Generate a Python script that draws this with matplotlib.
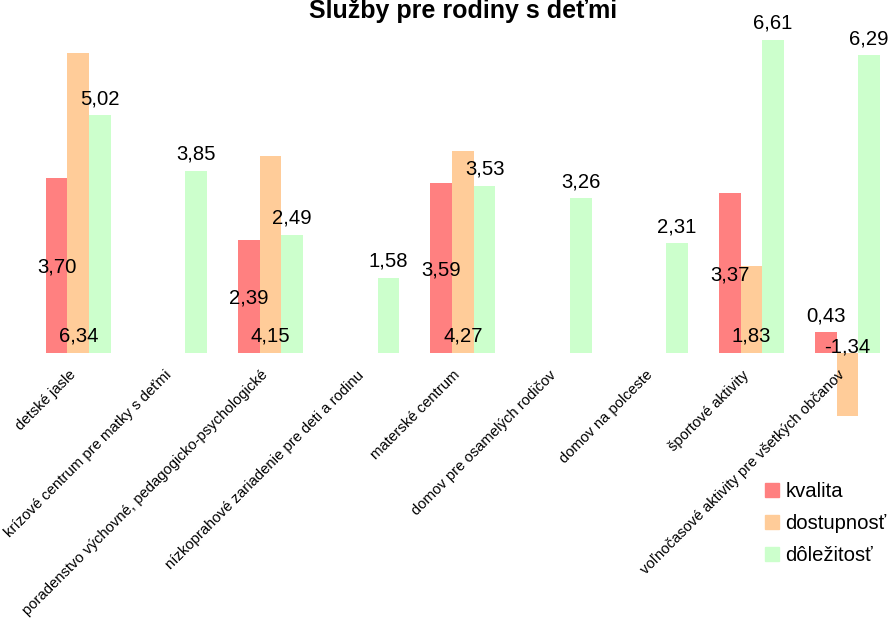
import numpy as np
import matplotlib
matplotlib.use('Agg')
from matplotlib import pyplot as plt
from matplotlib.patches import Patch

# data
categories = ['detské jasle', 'krízové centrum pre matky s deťmi',
              'poradenstvo výchovné, pedagogicko-psychologické',
              'nízkoprahové zariadenie pre deti a rodinu', 'materské centrum',
              'domov pre osamelých rodičov', 'domov na polceste',
              'športové aktivity', 'voľnočasové aktivity pre všetkých občanov']
kvalita = [3.70, np.nan, 2.39, np.nan, 3.59, np.nan, np.nan, 3.37, 0.43]
dostupnost = [6.34, np.nan, 4.15, np.nan, 4.27, np.nan, np.nan, 1.83, -1.34]
dolezitost = [5.02, 3.85, 2.49, 1.58, 3.53, 3.26, 2.31, 6.61, 6.29]
series_names = ['kvalita', 'dostupnosť', 'dôležitosť']

col_k = '#FF8080'
col_d = '#FFCC99'
col_z = '#CCFFCC'

plt.rcParams['font.family'] = ['Liberation Sans', 'DejaVu Sans']

f = plt.figure(figsize=(8.91, 6.22), dpi=100)
ax = f.add_axes([0.0339, 0.2809, 0.9713, 0.6844])

x = np.arange(len(categories))
width = 0.2256

ax.bar(x - width, kvalita, width, color=col_k)
ax.bar(x, dostupnost, width, color=col_d)
ax.bar(x + width, dolezitost, width, color=col_z)

ax.set_xlim(-0.5, len(categories) - 0.5)
ax.set_ylim(-2, 7)


def fmt(v):
    return f'{v:.2f}'.replace('.', ',')


lab_fs = 14.6
# kvalita: centred in the bar, above the bar when it is too short
for xi, v in zip(x - width, kvalita):
    if np.isnan(v):
        continue
    if v >= 1:
        ax.text(xi, v / 2, fmt(v), ha='center', va='center_baseline', fontsize=lab_fs)
    else:
        ax.annotate(fmt(v), (xi, v), xytext=(0, 8), textcoords='offset points',
                    ha='center', va='baseline', fontsize=lab_fs)
# dostupnost: inside base
for xi, v in zip(x, dostupnost):
    if np.isnan(v):
        continue
    dy = 13.5 if v > 0 else 5.8
    ax.annotate(fmt(v), (xi, 0), xytext=(0, dy), textcoords='offset points',
                ha='center', va='center_baseline', fontsize=lab_fs)
# dolezitost: outside end
for xi, v in zip(x + width, dolezitost):
    ax.annotate(fmt(v), (xi, v), xytext=(0, 8), textcoords='offset points',
                ha='center', va='baseline', fontsize=lab_fs)

# category labels along the zero line
ax.spines['bottom'].set_position(('data', 0))
for s in ['top', 'right', 'left', 'bottom']:
    ax.spines[s].set_visible(False)
ax.set_yticks([])
ax.set_xticks(x)
ax.set_xticklabels(categories, rotation=45, ha='right', fontsize=10.7)
ax.tick_params(axis='x', length=0, pad=11)

f.text(463 / 891, 1 - 18 / 622, 'Služby pre rodiny s deťmi', ha='center',
       va='baseline', fontsize=18, fontweight='bold')

handles = [Patch(color=c) for c in (col_k, col_d, col_z)]
f.legend(handles, series_names, loc='upper left', bbox_to_anchor=(757 / 891, 1 - 474 / 622),
         frameon=False, fontsize=lab_fs, handlelength=0.7, handleheight=0.7,
         handletextpad=0.3, labelspacing=0.65, borderaxespad=0)

f.savefig('out.png', dpi=100)
